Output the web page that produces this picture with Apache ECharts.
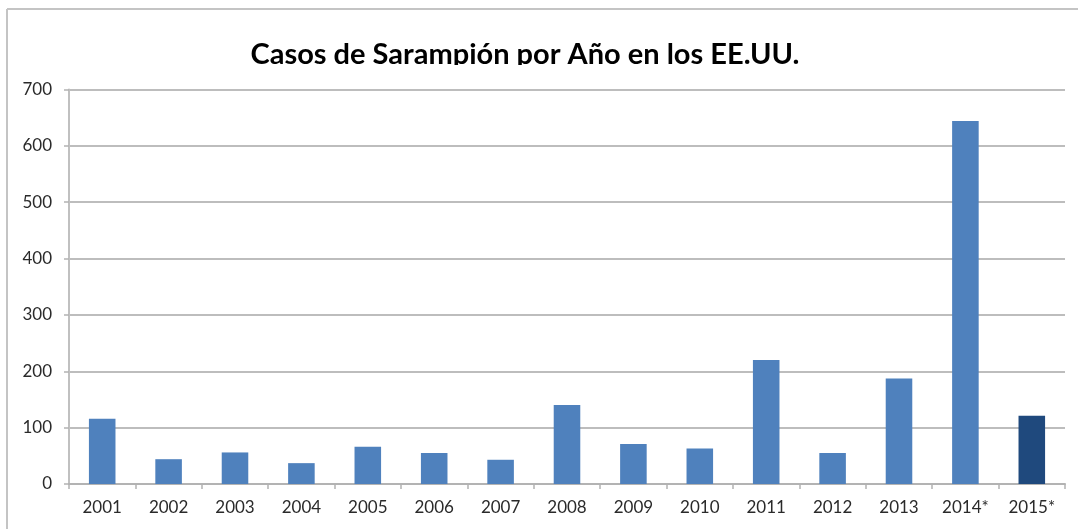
<!DOCTYPE html>
<html>
<head>
<meta charset="utf-8">
<script src="https://cdn.jsdelivr.net/npm/echarts@6/dist/echarts.min.js"></script>
<style>
html,body{margin:0;padding:0;background:#fff;}
#chart{width:1078px;height:529px;}
</style>
</head>
<body>
<div id="chart"></div>
<script>
const titleText = 'Casos de Sarampión por Año en los EE.UU.';
const years = ['2001','2002','2003','2004','2005','2006','2007','2008','2009','2010','2011','2012','2013','2014*','2015*'];
const cases = [116, 44, 56, 37, 66, 55, 43, 140, 71, 63, 220, 55, 187, 644, 121];
const highlightYear = '2015*';
const yTicks = [0, 100, 200, 300, 400, 500, 600, 700];

const chart = echarts.init(document.getElementById('chart'), null, {renderer: 'canvas'});
const baseColor = '#4F81BD';
const darkColor = '#1F497D';

chart.setOption({
  backgroundColor: '#ffffff',
  animation: false,
  title: {
    text: titleText,
    left: 520,
    textAlign: 'center',
    top: 35,
    textStyle: {fontFamily: 'Lato', fontWeight: 'bold', fontSize: 29, color: '#000'}
  },
  graphic: [
    {type: 'rect', shape: {x: 200, y: 65, width: 700, height: 22}, style: {fill: '#ffffff'}, z: 100, silent: true},
    {type: 'line', shape: {x1: 7, y1: 9, x2: 1078, y2: 9}, style: {stroke: '#c4c4c4', lineWidth: 2}, silent: true},
    {type: 'line', shape: {x1: 7, y1: 9, x2: 7, y2: 529}, style: {stroke: '#c4c4c4', lineWidth: 2}, silent: true}
  ],
  grid: {left: 69, right: 13, top: 89.5, bottom: 45, containLabel: false},
  xAxis: {
    type: 'category',
    data: years,
    axisLine: {show: true, lineStyle: {color: '#b3b3b3', width: 2}},
    axisTick: {show: true, alignWithLabel: false, length: 5, lineStyle: {color: '#b3b3b3', width: 1.5}},
    axisLabel: {margin: 15, fontFamily: 'Lato', fontSize: 17, color: '#2a2a2a'}
  },
  yAxis: {
    type: 'value',
    min: yTicks[0],
    max: yTicks[yTicks.length - 1],
    interval: 100,
    axisLine: {show: true, lineStyle: {color: '#c0c0c0', width: 2}},
    axisTick: {show: true, length: 5, lineStyle: {color: '#b3b3b3', width: 1.5}},
    splitLine: {show: true, lineStyle: {color: '#bdbdbd', width: 2}},
    axisLabel: {margin: 17, fontFamily: 'Lato', fontSize: 17, color: '#2a2a2a'}
  },
  series: [{
    type: 'bar',
    barWidth: '40%',
    data: cases.map((v, i) => ({
      value: v,
      itemStyle: {color: years[i] === highlightYear ? darkColor : baseColor}
    }))
  }]
});
</script>
</body>
</html>
